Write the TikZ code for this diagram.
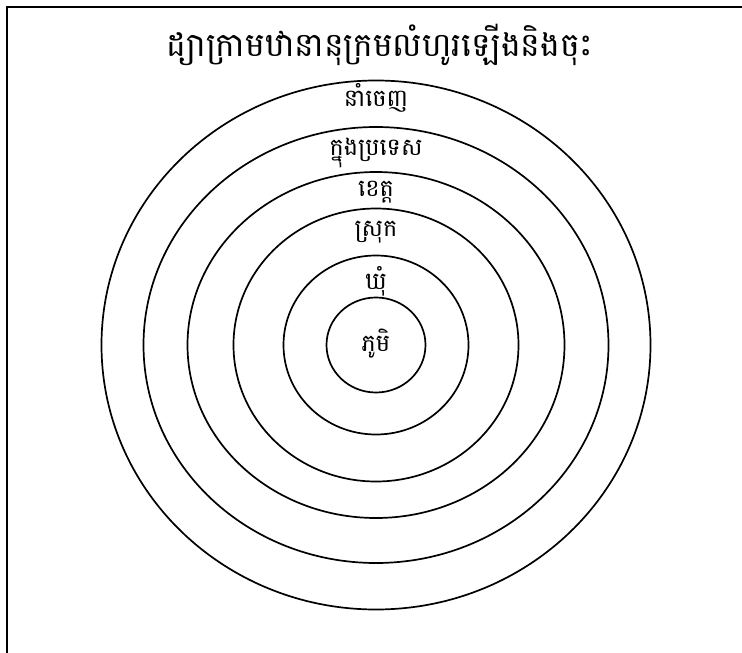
\documentclass[tikz,border=0pt]{standalone}
\usepackage{fontspec}
\newfontfamily\khmerfont[Script=Khmer]{Battambang}
\usetikzlibrary{shapes.geometric,positioning}

\begin{document}
\begin{tikzpicture}[
    x=1pt,
    y=-1pt,
    ring/.style={ellipse, draw, line width=1.7pt, inner sep=0pt},
    ring_label/.style={font=\khmerfont\fontsize{24}{28}\selectfont, inner sep=0pt, text height=12pt, text depth=0pt},
    title_style/.style={font=\khmerfont\fontsize{33}{38}\selectfont, inner sep=0pt, text height=16pt, text depth=0pt},
    frame_edge/.style={draw, line width=2.5pt}
]
  \useasboundingbox (0,0) rectangle (742,653);
  % Frame, open on the right and at the bottom
  \draw[frame_edge] (742,7) -- (7,7) -- (7,653);
  \node[title_style] (title) at (380,48) {ដ្យាក្រាមឋានានុក្រមលំហូរឡើងនិងចុះ};
  % Rings, outermost first
  \coordinate (c) at (376,345);
  \foreach \n/\w/\h in {1/549/529, 2/465/436, 3/377/346, 4/285/273, 5/185/179, 6/99/95} {
    \node[ring, minimum width=\w pt, minimum height=\h pt] (r\n) at (c) {};
  }
  % Ring labels, just under the top of each ring
  \foreach \n/\txt/\d in {1/នាំចេញ/21, 2/ក្នុងប្រទេស/23, 3/ខេត្ត/19, 4/ស្រុក/23, 5/ឃុំ/29} {
    \node[ring_label, below=\d pt of r\n.north, anchor=center] (lab\n) {\txt};
  }
  \node[ring_label] (lab6) at (r6) {ភូមិ};
\end{tikzpicture}
\end{document}
